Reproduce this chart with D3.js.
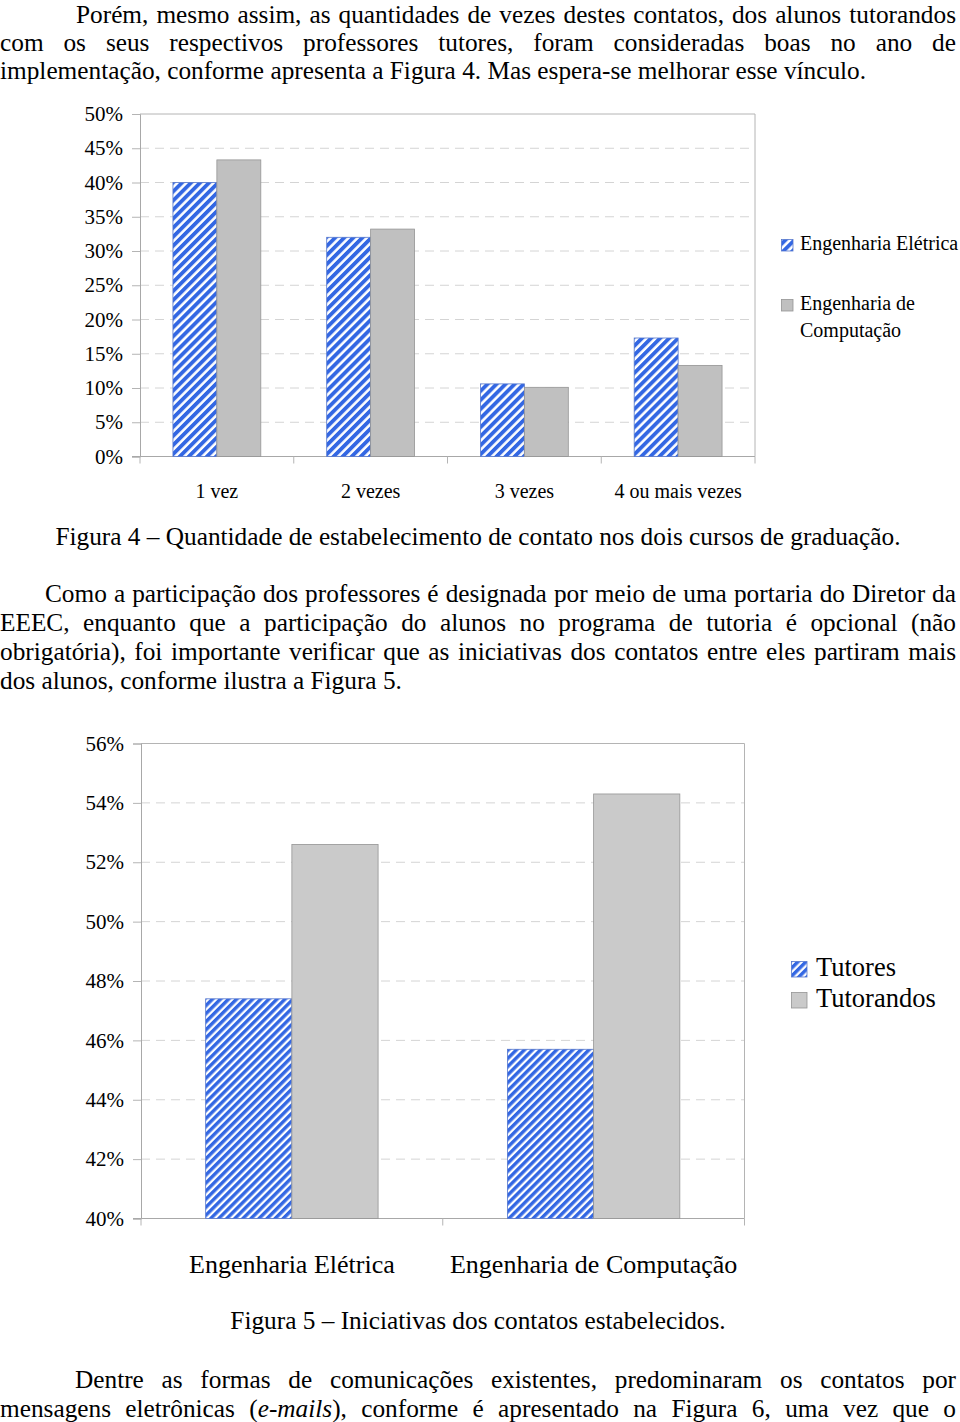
<!DOCTYPE html>
<html>
<head>
<meta charset="utf-8">
<script src="https://cdn.jsdelivr.net/npm/d3@7"></script>
<style>
body { margin: 0; background: #fff; }
#page { position: relative; width: 960px; height: 1422px; overflow: hidden;
	font-family: "Liberation Serif", "Times New Roman", serif; color: #000; }
#page svg { position: absolute; left: 0; top: 0; }
.line { position: absolute; font-size: 25.3px; line-height: 20px; white-space: nowrap; }
.just { text-align: justify; text-align-last: justify; white-space: normal; }
</style>
</head>
<body>
<div id="page"></div>
<script>
// Figura 4 - quantidade de contatos
var cats4 = ['1 vez', '2 vezes', '3 vezes', '4 ou mais vezes'];
var eletrica4 = [40.0, 32.0, 10.6, 17.3];
var computacao4 = [43.3, 33.2, 10.1, 13.3];
var ticks4 = [0, 5, 10, 15, 20, 25, 30, 35, 40, 45, 50];
var legend4 = [['Engenharia Elétrica'], ['Engenharia de', 'Computação']];

// Figura 5 - iniciativas dos contatos
var cats5 = ['Engenharia Elétrica', 'Engenharia de Computação'];
var tutores5 = [47.4, 45.7];
var tutorandos5 = [52.6, 54.3];
var ticks5 = [40, 42, 44, 46, 48, 50, 52, 54, 56];
var legend5 = [['Tutores'], ['Tutorandos']];

// texto da pagina: [texto, x, baseline, justificado]
var textLines = [
	['Porém, mesmo assim, as quantidades de vezes destes contatos, dos alunos tutorandos', 76, 22.6, true],
	['com os seus respectivos professores tutores, foram consideradas boas no ano de', 0, 50, true],
	['implementação, conforme apresenta a Figura 4. Mas espera-se melhorar esse vínculo.', 0, 78.5, false],
	['Como a participação dos professores é designada por meio de uma portaria do Diretor da', 45, 601, true],
	['EEEC, enquanto que a participação do alunos no programa de tutoria é opcional (não', 0, 630, true],
	['obrigatória), foi importante verificar que as iniciativas dos contatos entre eles partiram mais', 0, 659, true],
	['dos alunos, conforme ilustra a Figura 5.', 0, 688, false],
	['Dentre as formas de comunicações existentes, predominaram os contatos por', 75, 1387, true],
	['mensagens eletrônicas (<i>e-mails</i>), conforme é apresentado na Figura 6, uma vez que o', 0, 1416, true]
];
var captions = [
	['Figura 4 – Quantidade de estabelecimento de contato nos dois cursos de graduação.', 544],
	['Figura 5 – Iniciativas dos contatos estabelecidos.', 1328]
];

var page = d3.select('#page');
var svg = page.append('svg').attr('width', 960).attr('height', 1422);
var defs = svg.append('defs');

// hachura azul
[['stripe4', 6.4], ['stripe5', 5.7]].forEach(function(p) {
	var pat = defs.append('pattern')
			.attr('id', p[0])
			.attr('patternUnits', 'userSpaceOnUse')
			.attr('width', p[1]).attr('height', p[1])
			.attr('patternTransform', 'rotate(45)');
	pat.append('rect').attr('width', p[1]).attr('height', p[1]).attr('fill', '#fff');
	pat.append('rect').attr('width', p[1] * 0.6).attr('height', p[1]).attr('fill', '#3367e3');
});

function barChart(o) {
	var g = svg.append('g');
	var x = d3.scaleBand().domain(o.cats).range([o.left, o.right]);
	var x1 = d3.scaleBand().domain([0, 1]).range([0, x.bandwidth()]).paddingOuter(0.75);
	var y = d3.scaleLinear().domain([o.ticks[0], o.ticks[o.ticks.length - 1]]).range([o.bottom, o.top]);

	// grade tracejada
	g.selectAll('.grid').data(o.ticks.slice(1, -1)).enter().append('line')
			.attr('x1', o.left).attr('x2', o.right)
			.attr('y1', function(d) { return y(d); }).attr('y2', function(d) { return y(d); })
			.attr('stroke', '#d4d4d4').attr('stroke-dasharray', '9,6');

	// moldura
	g.append('path')
			.attr('d', 'M' + o.left + ',' + o.top + 'H' + o.right + 'V' + o.bottom)
			.attr('fill', 'none').attr('stroke', '#b4b4b4');

	// eixo y
	var yAxis = g.append('g')
			.attr('transform', 'translate(' + o.left + ',0)')
			.call(d3.axisLeft(y).tickValues(o.ticks).tickSize(8).tickPadding(9)
					.tickFormat(function(d) { return d + '%'; }));
	yAxis.select('.domain').attr('stroke', '#a8a8a8');
	yAxis.selectAll('.tick line').attr('stroke', '#b4b4b4');
	yAxis.selectAll('text')
			.attr('font-family', '"Liberation Serif", serif')
			.attr('font-size', o.tickFont).attr('fill', '#000');

	// eixo x
	g.append('line')
			.attr('x1', o.left - 8).attr('x2', o.right)
			.attr('y1', o.bottom).attr('y2', o.bottom)
			.attr('stroke', '#a8a8a8');
	var edges = o.cats.map(function(c) { return x(c); }).concat([o.right]);
	g.selectAll('.xtick').data(edges).enter().append('line')
			.attr('x1', function(d) { return d; }).attr('x2', function(d) { return d; })
			.attr('y1', o.bottom).attr('y2', o.bottom + 7)
			.attr('stroke', '#b4b4b4');
	g.selectAll('.xlabel').data(o.cats).enter().append('text')
			.attr('x', function(d) { return x(d) + x.bandwidth() / 2; })
			.attr('y', o.bottom + o.labelDy)
			.attr('text-anchor', 'middle')
			.attr('font-size', o.catFont)
			.text(function(d) { return d; });

	// barras
	var series = [
		{ vals: o.a, fill: 'url(#' + o.stripe + ')', stroke: '#5577cc' },
		{ vals: o.b, fill: o.gray, stroke: '#959595' }
	];
	series.forEach(function(s, i) {
		g.selectAll('.bar' + i).data(o.cats).enter().append('rect')
				.attr('x', function(d) { return x(d) + x1(i); })
				.attr('y', function(d, j) { return y(s.vals[j]); })
				.attr('width', x1.bandwidth())
				.attr('height', function(d, j) { return o.bottom - y(s.vals[j]); })
				.attr('fill', s.fill)
				.attr('stroke', s.stroke).attr('stroke-width', 0.8);
	});

	// legenda
	o.legend.forEach(function(lines, i) {
		var row = o.legendRows[i];
		g.append('rect')
				.attr('x', o.legendX).attr('y', row - o.box + 1)
				.attr('width', o.box).attr('height', o.box)
				.attr('fill', series[i].fill).attr('stroke', series[i].stroke).attr('stroke-width', 0.8);
		var t = g.append('text')
				.attr('x', o.legendX + o.box + o.legendGap).attr('y', row)
				.attr('font-size', o.legendFont);
		lines.forEach(function(l, k) {
			t.append('tspan').attr('x', o.legendX + o.box + o.legendGap)
					.attr('y', row + k * o.legendLead).text(l);
		});
	});
}

svg.attr('font-family', '"Liberation Serif", serif');

barChart({
	cats: cats4, a: eletrica4, b: computacao4, ticks: ticks4,
	left: 140, right: 755, top: 114, bottom: 456.5,
	stripe: 'stripe4', gray: '#c0c0c0',
	tickFont: 21, catFont: 20, labelDy: 41,
	legend: legend4, legendX: 781.5, legendRows: [250, 310], box: 11.5, legendGap: 7,
	legendFont: 20, legendLead: 26.5
});

barChart({
	cats: cats5, a: tutores5, b: tutorandos5, ticks: ticks5,
	left: 141, right: 744.5, top: 743.5, bottom: 1218.5,
	stripe: 'stripe5', gray: '#cacaca',
	tickFont: 21, catFont: 26, labelDy: 54,
	legend: legend5, legendX: 791.5, legendRows: [976, 1007], box: 15.5, legendGap: 9,
	legendFont: 26.5, legendLead: 30
});

// paragrafos (line-height 20px: baseline fica ~18.5px abaixo do topo)
textLines.forEach(function(l) {
	page.append('div')
			.attr('class', l[3] ? 'line just' : 'line')
			.style('left', l[1] + 'px')
			.style('top', (l[2] - 18.5) + 'px')
			.style('width', l[3] ? (956 - l[1]) + 'px' : null)
			.html(l[0]);
});
captions.forEach(function(c) {
	page.append('div')
			.attr('class', 'line')
			.style('left', '0px').style('width', '956px')
			.style('text-align', 'center')
			.style('top', (c[1] - 18.5) + 'px')
			.text(c[0]);
});
</script>
</body>
</html>
